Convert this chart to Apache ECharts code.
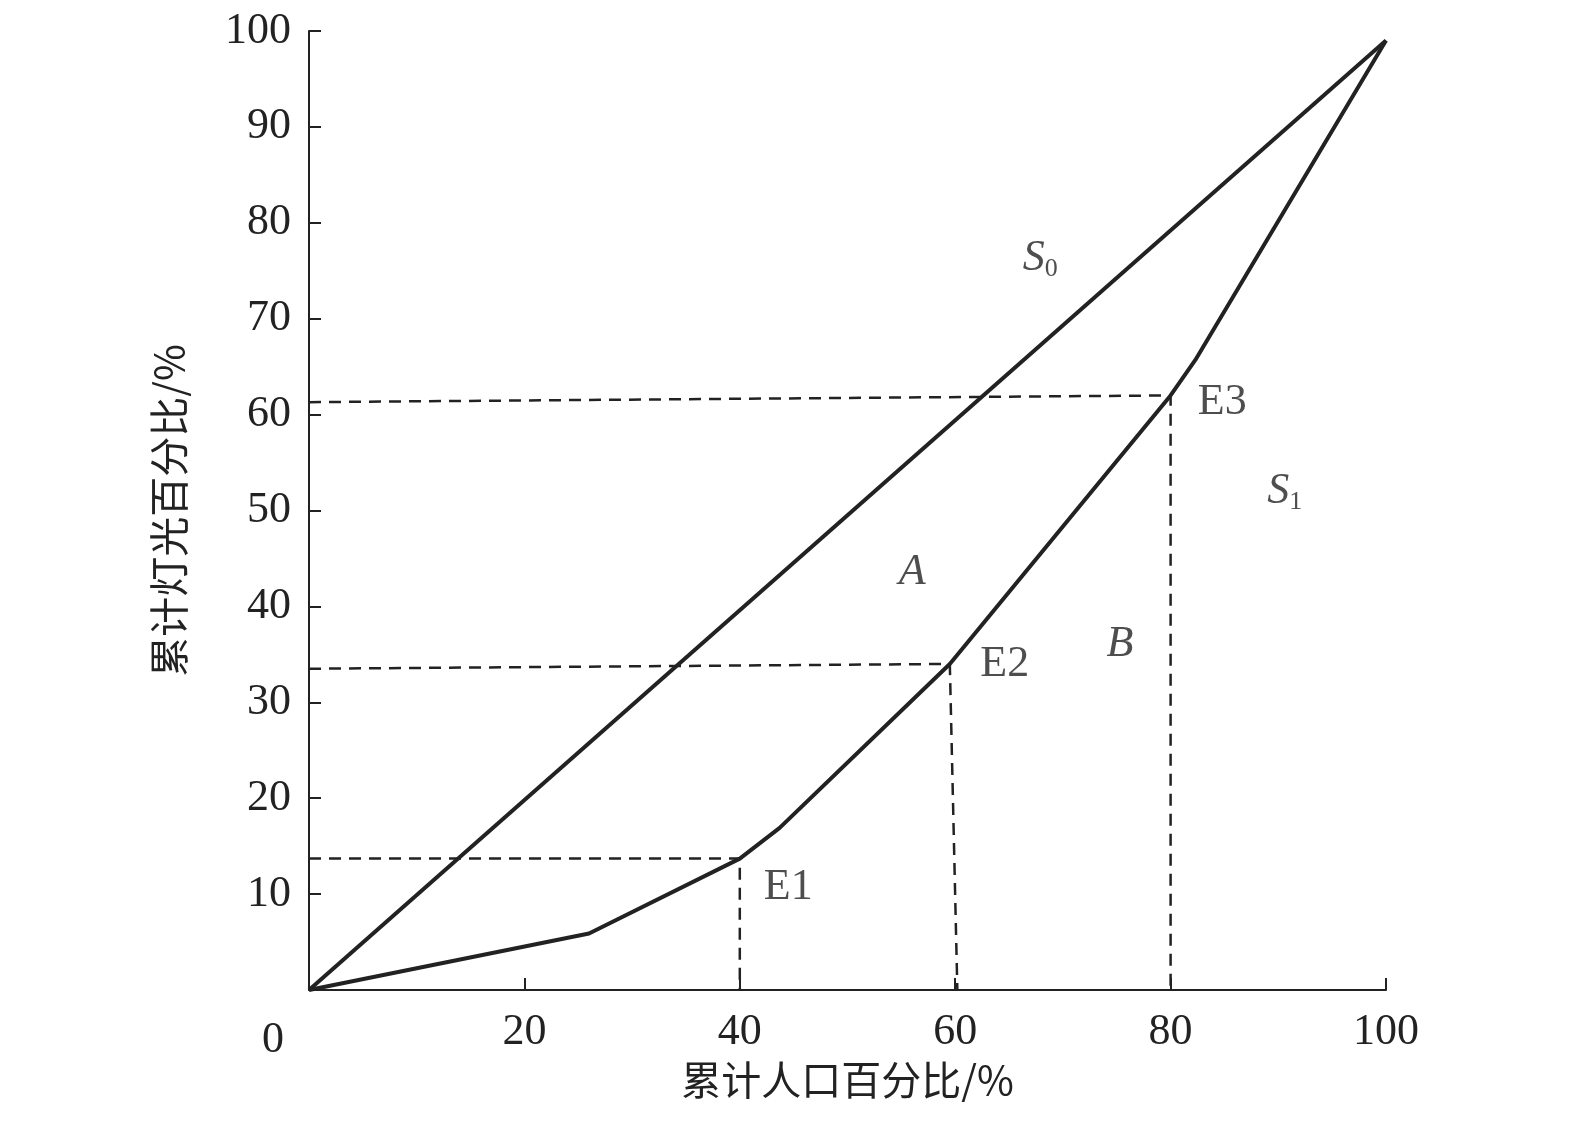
<!DOCTYPE html>
<html><head><meta charset="utf-8">
<script src="https://cdn.jsdelivr.net/npm/echarts@6/dist/echarts.min.js"></script>
<style>html,body{margin:0;background:#fff}#c{width:1575px;height:1148px}</style>
</head><body><div id="c"></div>
<script>
const equalityLine = [[0,0],[100,99]];
const lorenzCurve = [[0,0],[26,5.9],[40,13.7],[43.7,16.9],[59.5,34],[80,62],[82.3,65.7],[100,99]];
const dashE1 = [[0,13.7],[40,13.7],[40,0]];
const dashE2 = [[0,33.5],[59.5,34],[60.2,0]];
const dashE3 = [[0,61.3],[80,62],[80,0]];
const pointLabels = [[44.5,10.7,'E1'],[64.6,33.9,'E2'],[84.8,61.3,'E3']];
const italicLabels = [[56,43.5,'A'],[75.3,36,'B']];
const subLabels = [[67.9,76.3,'S','0'],[90.6,52,'S','1']];
const xTicks = [0,20,40,60,80,100];
const yTicks = [10,20,30,40,50,60,70,80,90,100];
const serif = 'Liberation Serif';
const chart = echarts.init(document.getElementById('c'));
const dash = d => ({type:'line',data:d,symbol:'none',lineStyle:{color:'#222',width:2.5,type:[12,8]},z:1});
chart.setOption({
  animation:false,
  grid:{left:309,right:189,top:31,bottom:158},
  xAxis:{type:'value',min:0,max:100,interval:20,
    name:'累计人口百分比/%',nameLocation:'middle',nameGap:70,
    nameTextStyle:{fontFamily:'Noto Sans CJK SC',fontSize:40,color:'#222'},
    axisLine:{lineStyle:{color:'#222',width:2}},axisTick:{inside:true,length:12,lineStyle:{color:'#222',width:2}},
    axisLabel:{fontFamily:serif,fontSize:44,color:'#222',margin:20,formatter:v=>v===0?'':String(v)},splitLine:{show:false}},
  yAxis:{type:'value',min:0,max:100,interval:10,
    name:'累计灯光百分比/%',nameLocation:'middle',nameGap:120,
    nameTextStyle:{fontFamily:'Noto Sans CJK SC',fontSize:40,color:'#222'},
    axisLine:{lineStyle:{color:'#222',width:2}},axisTick:{inside:true,length:12,lineStyle:{color:'#222',width:2}},
    axisLabel:{fontFamily:serif,fontSize:44,color:'#222',margin:18,formatter:v=>yTicks.includes(v)?String(v):''},splitLine:{show:false}},
  graphic:[{type:'text',left:262,top:1018,style:{text:String(xTicks[0]),font:'44px "Liberation Serif"',fill:'#222'}}],
  series:[
    {type:'line',data:equalityLine,symbol:'none',lineStyle:{color:'#222',width:4},z:3},
    {type:'line',data:lorenzCurve,symbol:'none',lineStyle:{color:'#222',width:4},z:3},
    dash(dashE1),dash(dashE2),dash(dashE3),
    {type:'scatter',symbolSize:0,data:pointLabels.map(p=>({value:[p[0],p[1]],name:p[2]})),
      label:{show:true,position:'inside',formatter:'{b}',fontFamily:serif,fontSize:44,color:'#222'}},
    {type:'scatter',symbolSize:0,data:italicLabels.map(p=>({value:[p[0],p[1]],name:p[2]})),
      label:{show:true,position:'inside',formatter:'{b}',fontFamily:serif,fontStyle:'italic',fontSize:44,color:'#222'}},
    {type:'scatter',symbolSize:0,data:subLabels.map(p=>({value:[p[0],p[1]],name:p[2]+'|'+p[3]})),
      label:{show:true,position:'inside',
        formatter:q=>{const [a,b]=q.name.split('|');return '{m|'+a+'}{s|'+b+'}';},
        rich:{m:{fontFamily:serif,fontStyle:'italic',fontSize:44,color:'#222'},
              s:{fontFamily:serif,fontSize:26,color:'#222',verticalAlign:'bottom',padding:[22,0,0,0]}}}}
  ]
});
</script></body></html>
